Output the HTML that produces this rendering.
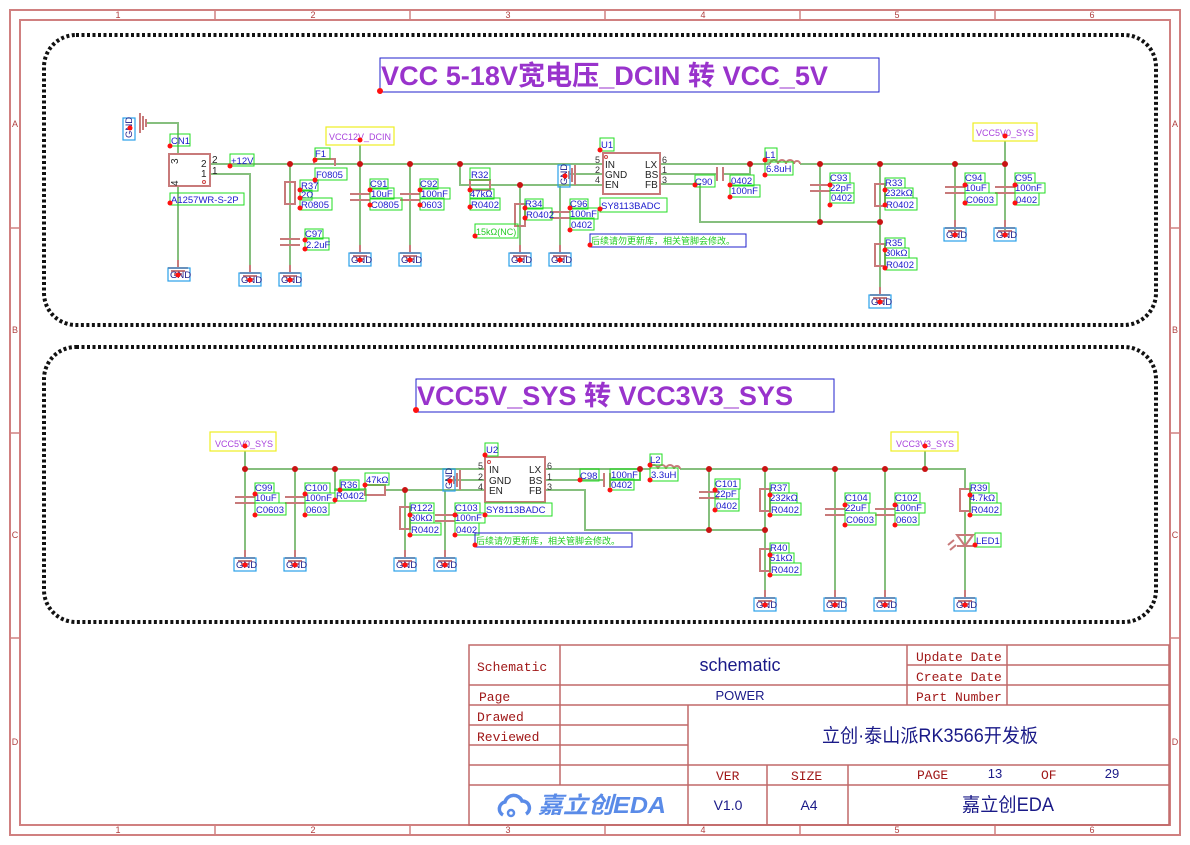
<!DOCTYPE html>
<html><head><meta charset="utf-8"><style>
html,body{margin:0;padding:0;background:#fff;}
svg{display:block}
.w{stroke:#86bf7e;stroke-width:2;fill:none}
.c{stroke:#c87a7a;stroke-width:2;fill:none}
.lb{fill:none;stroke:#22dd22;stroke-width:1}
.gb{fill:none;stroke:#2aa0e8;stroke-width:1.2}
.t{font:9.5px "Liberation Sans",sans-serif;fill:#1a1acc}
.g{font:9.5px "Liberation Sans",sans-serif;fill:#1a1a88}
.z{font:9px "Liberation Sans",sans-serif;fill:#b04040}
.pt{font:9px "Liberation Sans",sans-serif;fill:#333}
.ic{font:10px "Liberation Sans",sans-serif;fill:#222}
.tb{font:13px "Liberation Mono","Liberation Serif",monospace;fill:#a01818}
.tv{font-family:"Liberation Sans","Noto Sans CJK SC",sans-serif;fill:#1a1a88}
.j{fill:#c81414}
.m{fill:#ff1010}
.note{font:9px "Liberation Sans","Noto Sans CJK SC",sans-serif;fill:#22cc22}
.net{font:9px "Liberation Sans",sans-serif;fill:#aa44dd}
</style></head><body>
<svg width="1190" height="845" viewBox="0 0 1190 845" xmlns="http://www.w3.org/2000/svg">
<defs>
<g id="gnd"><line class="c" x1="0" y1="0" x2="0" y2="8"/><line class="c" x1="-10" y1="8" x2="10" y2="8"/><line class="c" x1="-7" y1="11" x2="7" y2="11"/><line class="c" x1="-4" y1="14" x2="4" y2="14"/></g>
<g id="cap"><line class="c" x1="-10" y1="-3" x2="10" y2="-3"/><line class="c" x1="-10" y1="3" x2="10" y2="3"/></g>
<g id="res"><rect class="c" x="-5" y="-11" width="10" height="22" fill="#fff"/></g>
</defs>
<rect width="1190" height="845" fill="#fff"/>
<rect x="10" y="10" width="1170" height="825" fill="none" stroke="#d08080" stroke-width="2"/>
<rect x="20" y="20" width="1150" height="805" fill="none" stroke="#d08080" stroke-width="2"/>
<g stroke="#d08080" stroke-width="1.5">
<line x1="215" y1="10" x2="215" y2="20"/><line x1="410" y1="10" x2="410" y2="20"/><line x1="605" y1="10" x2="605" y2="20"/><line x1="800" y1="10" x2="800" y2="20"/><line x1="995" y1="10" x2="995" y2="20"/>
<line x1="215" y1="825" x2="215" y2="835"/><line x1="410" y1="825" x2="410" y2="835"/><line x1="605" y1="825" x2="605" y2="835"/><line x1="800" y1="825" x2="800" y2="835"/><line x1="995" y1="825" x2="995" y2="835"/>
<line x1="10" y1="228" x2="20" y2="228"/><line x1="10" y1="433" x2="20" y2="433"/><line x1="10" y1="638" x2="20" y2="638"/>
<line x1="1170" y1="228" x2="1180" y2="228"/><line x1="1170" y1="433" x2="1180" y2="433"/><line x1="1170" y1="638" x2="1180" y2="638"/>
</g>
<g class="z" text-anchor="middle">
<text x="118" y="18">1</text><text x="313" y="18">2</text><text x="508" y="18">3</text><text x="703" y="18">4</text><text x="897" y="18">5</text><text x="1092" y="18">6</text>
<text x="118" y="833">1</text><text x="313" y="833">2</text><text x="508" y="833">3</text><text x="703" y="833">4</text><text x="897" y="833">5</text><text x="1092" y="833">6</text>
<text x="15" y="127">A</text><text x="15" y="333">B</text><text x="15" y="538">C</text><text x="15" y="745">D</text>
<text x="1175" y="127">A</text><text x="1175" y="333">B</text><text x="1175" y="538">C</text><text x="1175" y="745">D</text>
</g>
<rect x="44" y="35" width="1112" height="290" rx="32" fill="none" stroke="#111" stroke-width="4" stroke-dasharray="3,2.5"/>
<rect x="44" y="347" width="1112" height="275" rx="32" fill="none" stroke="#111" stroke-width="4" stroke-dasharray="3,2.5"/>

<!-- TOP -->
<rect x="380" y="58" width="499" height="34" fill="none" stroke="#2222cc" stroke-width="1"/>
<text x="381" y="85" font-family="Liberation Sans,Noto Sans CJK SC,sans-serif" font-size="27" font-weight="bold" fill="#9933cc" textLength="447" lengthAdjust="spacingAndGlyphs">VCC 5-18V宽电压_DCIN 转 VCC_5V</text>
<circle class="m" cx="380" cy="91" r="3"/>
<g class="w">
<path d="M146 123 H178 V154"/><path d="M178 186 V265"/><path d="M210 164 H603"/><path d="M210 174 H250 V265"/>
<path d="M290 164 V268"/><path d="M360 145 V250"/><path d="M410 164 V250"/><path d="M460 164 V185 H603"/>
<path d="M520 185 V250"/><path d="M560 185 V250"/><path d="M570 174 H603"/><path d="M660 164 H770"/>
<path d="M660 174 H717"/><path d="M723 174 H750 V164"/><path d="M660 184 H700 V222 H880"/><path d="M800 164 H1005"/>
<path d="M820 164 V222"/><path d="M880 164 V290"/><path d="M955 164 V230"/><path d="M1005 141 V230"/>
</g>
<g transform="translate(140,123)"><line class="c" x1="0" y1="-10" x2="0" y2="10"/><line class="c" x1="3" y1="-7" x2="3" y2="7"/><line class="c" x1="6" y1="-4" x2="6" y2="4"/></g>
<rect x="123" y="118" width="12" height="22" class="gb"/><text class="g" transform="translate(132,138) rotate(-90)">GND</text>
<rect x="169" y="154" width="41" height="32" class="c" fill="#fff"/>
<text class="ic" x="201" y="167">2</text><text class="ic" x="201" y="177">1</text><text class="ic" x="212" y="163">2</text><text class="ic" x="212" y="174">1</text>
<text class="ic" transform="translate(178,164) rotate(-90)">3</text><text class="ic" transform="translate(178,186) rotate(-90)">4</text>
<circle cx="204" cy="182" r="1.5" fill="none" stroke="#c44"/>
<path class="c" d="M314 164 V159 H335 V166"/>
<use href="#res" x="290" y="193"/><use href="#cap" x="290" y="242"/><use href="#cap" x="360" y="197"/><use href="#cap" x="410" y="197"/>
<rect x="470" y="180" width="20" height="10" class="c" fill="#fff"/>
<use href="#res" x="520" y="215"/><use href="#cap" x="560" y="215"/>
<g transform="translate(575,175)"><line class="c" x1="0" y1="-10" x2="0" y2="10"/><line class="c" x1="-3" y1="-7" x2="-3" y2="7"/><line class="c" x1="-6" y1="-4" x2="-6" y2="4"/></g>
<rect x="558" y="165" width="12" height="22" class="gb"/><text class="g" transform="translate(567,185) rotate(-90)">GND</text>
<rect x="603" y="153" width="57" height="41" class="c" fill="#fff"/>
<circle cx="606" cy="157" r="1.5" fill="none" stroke="#c44"/>
<text class="ic" x="605" y="168">IN</text><text class="ic" x="605" y="178">GND</text><text class="ic" x="605" y="188">EN</text>
<text class="ic" x="645" y="168">LX</text><text class="ic" x="645" y="178">BS</text><text class="ic" x="645" y="188">FB</text>
<text class="pt" x="595" y="163">5</text><text class="pt" x="595" y="173">2</text><text class="pt" x="595" y="183">4</text>
<text class="pt" x="662" y="163">6</text><text class="pt" x="662" y="173">1</text><text class="pt" x="662" y="183">3</text>
<line class="c" x1="717" y1="167" x2="717" y2="181"/><line class="c" x1="723" y1="167" x2="723" y2="181"/>
<path class="c" d="M770 164 a4 4 0 0 1 8 0 a4 4 0 0 1 8 0 a4 4 0 0 1 8 0 a3 3 0 0 1 6 0"/>
<use href="#cap" x="820" y="188"/><use href="#res" x="880" y="195"/><use href="#res" x="880" y="255"/><use href="#cap" x="955" y="190"/><use href="#cap" x="1005" y="190"/>
<use href="#gnd" x="178" y="260"/><use href="#gnd" x="250" y="265"/><use href="#gnd" x="290" y="265"/>
<use href="#gnd" x="360" y="245"/><use href="#gnd" x="410" y="245"/><use href="#gnd" x="520" y="245"/><use href="#gnd" x="560" y="245"/>
<use href="#gnd" x="880" y="287"/><use href="#gnd" x="955" y="220"/><use href="#gnd" x="1005" y="220"/>
<g>
<rect class="gb" x="168" y="268" width="22" height="13"/><text class="g" x="170" y="278">GND</text>
<rect class="gb" x="239" y="273" width="22" height="13"/><text class="g" x="241" y="283">GND</text>
<rect class="gb" x="279" y="273" width="22" height="13"/><text class="g" x="281" y="283">GND</text>
<rect class="gb" x="349" y="253" width="22" height="13"/><text class="g" x="351" y="263">GND</text>
<rect class="gb" x="399" y="253" width="22" height="13"/><text class="g" x="401" y="263">GND</text>
<rect class="gb" x="509" y="253" width="22" height="13"/><text class="g" x="511" y="263">GND</text>
<rect class="gb" x="549" y="253" width="22" height="13"/><text class="g" x="551" y="263">GND</text>
<rect class="gb" x="869" y="295" width="22" height="13"/><text class="g" x="871" y="305">GND</text>
<rect class="gb" x="944" y="228" width="22" height="13"/><text class="g" x="946" y="238">GND</text>
<rect class="gb" x="994" y="228" width="22" height="13"/><text class="g" x="996" y="238">GND</text>
</g>
<rect x="326" y="127" width="68" height="18" fill="none" stroke="#eeee22" stroke-width="1.2"/><text class="net" x="329" y="140">VCC12V_DCIN</text>
<rect x="973" y="123" width="64" height="18" fill="none" stroke="#eeee22" stroke-width="1.2"/><text class="net" x="976" y="136">VCC5V0_SYS</text>
<g>
<rect class="lb" x="170" y="134" width="20" height="12"/><text class="t" x="171" y="144">CN1</text>
<rect class="lb" x="170" y="193" width="74" height="12"/><text class="t" x="171" y="203">A1257WR-S-2P</text>
<rect class="lb" x="230" y="154" width="24" height="12"/><text class="t" x="231" y="164">+12V</text>
<rect class="lb" x="315" y="148" width="15" height="11"/><text class="t" x="315" y="157">F1</text>
<rect class="lb" x="315" y="168" width="32" height="12"/><text class="t" x="316" y="178">F0805</text>
<rect class="lb" x="300" y="180" width="18" height="11"/><text class="t" x="301" y="189">R37</text>
<rect class="lb" x="300" y="190" width="12" height="10"/><text class="t" x="301" y="198">2Ω</text>
<rect class="lb" x="300" y="198" width="32" height="12"/><text class="t" x="301" y="208">R0805</text>
<rect class="lb" x="305" y="229" width="18" height="10"/><text class="t" x="305" y="237">C97</text>
<rect class="lb" x="305" y="238" width="24" height="12"/><text class="t" x="306" y="248">2.2uF</text>
<rect class="lb" x="370" y="179" width="18" height="10"/><text class="t" x="370" y="187">C91</text>
<rect class="lb" x="370" y="188" width="24" height="11"/><text class="t" x="371" y="197">10uF</text>
<rect class="lb" x="370" y="198" width="32" height="12"/><text class="t" x="371" y="208">C0805</text>
<rect class="lb" x="420" y="179" width="18" height="10"/><text class="t" x="420" y="187">C92</text>
<rect class="lb" x="420" y="188" width="30" height="11"/><text class="t" x="421" y="197">100nF</text>
<rect class="lb" x="420" y="198" width="24" height="12"/><text class="t" x="421" y="208">0603</text>
<rect class="lb" x="470" y="168" width="20" height="12"/><text class="t" x="471" y="178">R32</text>
<rect class="lb" x="470" y="189" width="24" height="10"/><text class="t" x="470" y="197">47kΩ</text>
<rect class="lb" x="470" y="198" width="30" height="12"/><text class="t" x="471" y="208">R0402</text>
<rect class="lb" x="525" y="199" width="18" height="10"/><text class="t" x="525" y="207">R34</text>
<rect class="lb" x="525" y="208" width="27" height="12"/><text class="t" x="526" y="218">R0402</text>
<rect class="lb" x="475" y="224" width="43" height="14"/><text class="note" x="476" y="235">15kΩ(NC)</text>
<rect class="lb" x="570" y="199" width="18" height="10"/><text class="t" x="570" y="207">C96</text>
<rect class="lb" x="570" y="208" width="28" height="11"/><text class="t" x="570" y="217">100nF</text>
<rect class="lb" x="570" y="218" width="24" height="12"/><text class="t" x="571" y="228">0402</text>
<rect class="lb" x="600" y="138" width="14" height="13"/><text class="t" x="601" y="148">U1</text>
<rect class="lb" x="600" y="198" width="67" height="14"/><text class="t" x="601" y="209">SY8113BADC</text>
<rect class="lb" x="695" y="175" width="20" height="12"/><text class="t" x="695" y="185">C90</text>
<rect class="lb" x="730" y="175" width="24" height="11"/><text class="t" x="731" y="184">0402</text>
<rect class="lb" x="730" y="185" width="30" height="12"/><text class="t" x="731" y="194">100nF</text>
<rect class="lb" x="765" y="148" width="12" height="12"/><text class="t" x="765" y="158">L1</text>
<rect class="lb" x="765" y="162" width="28" height="13"/><text class="t" x="766" y="172">6.8uH</text>
<rect class="lb" x="830" y="173" width="20" height="10"/><text class="t" x="830" y="181">C93</text>
<rect class="lb" x="830" y="183" width="24" height="10"/><text class="t" x="830" y="191">22pF</text>
<rect class="lb" x="830" y="193" width="24" height="10"/><text class="t" x="831" y="201">0402</text>
<rect class="lb" x="885" y="178" width="20" height="10"/><text class="t" x="885" y="186">R33</text>
<rect class="lb" x="885" y="188" width="28" height="10"/><text class="t" x="885" y="196">232kΩ</text>
<rect class="lb" x="885" y="198" width="32" height="12"/><text class="t" x="886" y="208">R0402</text>
<rect class="lb" x="885" y="238" width="20" height="10"/><text class="t" x="885" y="246">R35</text>
<rect class="lb" x="885" y="248" width="24" height="10"/><text class="t" x="885" y="256">30kΩ</text>
<rect class="lb" x="885" y="258" width="32" height="12"/><text class="t" x="886" y="268">R0402</text>
<rect class="lb" x="965" y="173" width="20" height="10"/><text class="t" x="965" y="181">C94</text>
<rect class="lb" x="965" y="183" width="24" height="10"/><text class="t" x="965" y="191">10uF</text>
<rect class="lb" x="965" y="193" width="32" height="12"/><text class="t" x="966" y="203">C0603</text>
<rect class="lb" x="1015" y="173" width="20" height="10"/><text class="t" x="1015" y="181">C95</text>
<rect class="lb" x="1015" y="183" width="30" height="10"/><text class="t" x="1015" y="191">100nF</text>
<rect class="lb" x="1015" y="193" width="24" height="12"/><text class="t" x="1016" y="203">0402</text>
</g>
<rect x="590" y="234" width="156" height="13" fill="none" stroke="#2222cc" stroke-width="1"/>
<text class="note" x="591" y="244">后续请勿更新库，相关管脚会修改。</text>
<g class="j">
<circle cx="290" cy="164" r="3"/><circle cx="360" cy="164" r="3"/><circle cx="410" cy="164" r="3"/><circle cx="460" cy="164" r="3"/><circle cx="520" cy="185" r="3"/>
<circle cx="750" cy="164" r="3"/><circle cx="820" cy="164" r="3"/><circle cx="880" cy="164" r="3"/><circle cx="955" cy="164" r="3"/><circle cx="1005" cy="164" r="3"/>
<circle cx="820" cy="222" r="3"/><circle cx="880" cy="222" r="3"/>
</g>
<g class="m">
<circle cx="130" cy="128" r="2.5"/><circle cx="170" cy="146" r="2.5"/><circle cx="170" cy="203" r="2.5"/><circle cx="230" cy="166" r="2.5"/><circle cx="315" cy="160" r="2.5"/><circle cx="315" cy="180" r="2.5"/>
<circle cx="300" cy="190" r="2.5"/><circle cx="300" cy="198" r="2.5"/><circle cx="300" cy="208" r="2.5"/><circle cx="305" cy="240" r="2.5"/><circle cx="305" cy="249" r="2.5"/>
<circle cx="360" cy="140" r="2.5"/><circle cx="370" cy="190" r="2.5"/><circle cx="370" cy="205" r="2.5"/><circle cx="420" cy="190" r="2.5"/><circle cx="420" cy="205" r="2.5"/>
<circle cx="470" cy="190" r="2.5"/><circle cx="470" cy="207" r="2.5"/><circle cx="525" cy="208" r="2.5"/><circle cx="525" cy="218" r="2.5"/><circle cx="475" cy="236" r="2.5"/>
<circle cx="570" cy="208" r="2.5"/><circle cx="570" cy="230" r="2.5"/><circle cx="600" cy="150" r="2.5"/><circle cx="600" cy="209" r="2.5"/><circle cx="590" cy="245" r="2.5"/>
<circle cx="695" cy="185" r="2.5"/><circle cx="730" cy="185" r="2.5"/><circle cx="730" cy="197" r="2.5"/><circle cx="765" cy="160" r="2.5"/><circle cx="765" cy="175" r="2.5"/>
<circle cx="830" cy="185" r="2.5"/><circle cx="830" cy="205" r="2.5"/><circle cx="885" cy="190" r="2.5"/><circle cx="885" cy="205" r="2.5"/><circle cx="885" cy="250" r="2.5"/><circle cx="885" cy="268" r="2.5"/>
<circle cx="965" cy="185" r="2.5"/><circle cx="965" cy="203" r="2.5"/><circle cx="1015" cy="185" r="2.5"/><circle cx="1015" cy="203" r="2.5"/><circle cx="1005" cy="136" r="2.5"/>
<circle cx="178" cy="275" r="2.5"/><circle cx="250" cy="280" r="2.5"/><circle cx="290" cy="280" r="2.5"/><circle cx="360" cy="260" r="2.5"/><circle cx="410" cy="260" r="2.5"/><circle cx="520" cy="260" r="2.5"/><circle cx="560" cy="260" r="2.5"/><circle cx="880" cy="302" r="2.5"/><circle cx="955" cy="235" r="2.5"/><circle cx="1005" cy="235" r="2.5"/><circle cx="565" cy="176" r="2.5"/>
</g>

<!-- BOTTOM -->
<rect x="416" y="379" width="418" height="33" fill="none" stroke="#2222cc" stroke-width="1"/>
<text x="417" y="405" font-family="Liberation Sans,Noto Sans CJK SC,sans-serif" font-size="27" font-weight="bold" fill="#9933cc" textLength="376" lengthAdjust="spacingAndGlyphs">VCC5V_SYS 转 VCC3V3_SYS</text>
<circle class="m" cx="416" cy="410" r="3"/>
<g class="w">
<path d="M245 451 V555"/><path d="M245 469 H485"/><path d="M295 469 V555"/><path d="M335 469 V490 H365"/>
<path d="M385 490 H485"/><path d="M405 490 V555"/><path d="M445 480 H485"/><path d="M445 490 V555"/>
<path d="M545 469 H650"/><path d="M680 469 H965 V490"/><path d="M545 480 H604"/><path d="M610 480 H640 V469"/>
<path d="M545 490 H585 V530 H765"/><path d="M709 469 V530"/><path d="M765 469 V595"/><path d="M835 469 V595"/>
<path d="M885 469 V595"/><path d="M925 451 V469"/><path d="M965 510 V595"/>
</g>
<use href="#cap" x="245" y="500"/><use href="#cap" x="295" y="500"/>
<rect x="365" y="485" width="20" height="10" class="c" fill="#fff"/>
<use href="#res" x="405" y="518"/><use href="#cap" x="445" y="518"/>
<g transform="translate(460,480)"><line class="c" x1="0" y1="-10" x2="0" y2="10"/><line class="c" x1="-3" y1="-7" x2="-3" y2="7"/><line class="c" x1="-6" y1="-4" x2="-6" y2="4"/></g>
<rect x="443" y="469" width="12" height="22" class="gb"/><text class="g" transform="translate(452,489) rotate(-90)">GND</text>
<rect x="485" y="457" width="60" height="45" class="c" fill="#fff"/>
<circle cx="489" cy="462" r="1.5" fill="none" stroke="#c44"/>
<text class="ic" x="489" y="473">IN</text><text class="ic" x="489" y="484">GND</text><text class="ic" x="489" y="494">EN</text>
<text class="ic" x="529" y="473">LX</text><text class="ic" x="529" y="484">BS</text><text class="ic" x="529" y="494">FB</text>
<text class="pt" x="478" y="469">5</text><text class="pt" x="478" y="480">2</text><text class="pt" x="478" y="490">4</text>
<text class="pt" x="547" y="469">6</text><text class="pt" x="547" y="480">1</text><text class="pt" x="547" y="490">3</text>
<line class="c" x1="604" y1="473" x2="604" y2="487"/><line class="c" x1="610" y1="473" x2="610" y2="487"/>
<path class="c" d="M650 469 a4 4 0 0 1 8 0 a4 4 0 0 1 8 0 a4 4 0 0 1 8 0 a3 3 0 0 1 6 0"/>
<use href="#cap" x="709" y="495"/><use href="#res" x="765" y="500"/><use href="#res" x="765" y="560"/>
<use href="#cap" x="835" y="512"/><use href="#cap" x="885" y="512"/><use href="#res" x="965" y="500"/>
<path class="c" d="M957 535 H973 L965 546 Z" fill="#fff"/><line class="c" x1="957" y1="546" x2="973" y2="546"/>
<line class="c" x1="948" y1="545" x2="954" y2="540"/><line class="c" x1="950" y1="550" x2="956" y2="545"/>
<use href="#gnd" x="245" y="550"/><use href="#gnd" x="295" y="550"/><use href="#gnd" x="405" y="550"/><use href="#gnd" x="445" y="550"/>
<use href="#gnd" x="765" y="590"/><use href="#gnd" x="835" y="590"/><use href="#gnd" x="885" y="590"/><use href="#gnd" x="965" y="590"/>
<g>
<rect class="gb" x="234" y="558" width="22" height="13"/><text class="g" x="236" y="568">GND</text>
<rect class="gb" x="284" y="558" width="22" height="13"/><text class="g" x="286" y="568">GND</text>
<rect class="gb" x="394" y="558" width="22" height="13"/><text class="g" x="396" y="568">GND</text>
<rect class="gb" x="434" y="558" width="22" height="13"/><text class="g" x="436" y="568">GND</text>
<rect class="gb" x="754" y="598" width="22" height="13"/><text class="g" x="756" y="608">GND</text>
<rect class="gb" x="824" y="598" width="22" height="13"/><text class="g" x="826" y="608">GND</text>
<rect class="gb" x="874" y="598" width="22" height="13"/><text class="g" x="876" y="608">GND</text>
<rect class="gb" x="954" y="598" width="22" height="13"/><text class="g" x="956" y="608">GND</text>
</g>
<rect x="210" y="432" width="66" height="19" fill="none" stroke="#eeee22" stroke-width="1.2"/><text class="net" x="215" y="447">VCC5V0_SYS</text>
<rect x="891" y="432" width="67" height="19" fill="none" stroke="#eeee22" stroke-width="1.2"/><text class="net" x="896" y="447">VCC3V3_SYS</text>
<g>
<rect class="lb" x="255" y="483" width="19" height="10"/><text class="t" x="255" y="491">C99</text>
<rect class="lb" x="255" y="493" width="24" height="10"/><text class="t" x="255" y="501">10uF</text>
<rect class="lb" x="255" y="503" width="31" height="12"/><text class="t" x="256" y="513">C0603</text>
<rect class="lb" x="305" y="483" width="25" height="10"/><text class="t" x="305" y="491">C100</text>
<rect class="lb" x="305" y="493" width="30" height="10"/><text class="t" x="305" y="501">100nF</text>
<rect class="lb" x="305" y="503" width="24" height="12"/><text class="t" x="306" y="513">0603</text>
<rect class="lb" x="340" y="480" width="19" height="10"/><text class="t" x="340" y="488">R36</text>
<rect class="lb" x="335" y="489" width="31" height="12"/><text class="t" x="336" y="499">R0402</text>
<rect class="lb" x="365" y="473" width="24" height="12"/><text class="t" x="366" y="483">47kΩ</text>
<rect class="lb" x="410" y="503" width="24" height="10"/><text class="t" x="410" y="511">R122</text>
<rect class="lb" x="410" y="513" width="24" height="10"/><text class="t" x="410" y="521">30kΩ</text>
<rect class="lb" x="410" y="523" width="31" height="12"/><text class="t" x="411" y="533">R0402</text>
<rect class="lb" x="455" y="503" width="25" height="10"/><text class="t" x="455" y="511">C103</text>
<rect class="lb" x="455" y="513" width="30" height="10"/><text class="t" x="455" y="521">100nF</text>
<rect class="lb" x="455" y="523" width="24" height="12"/><text class="t" x="456" y="533">0402</text>
<rect class="lb" x="485" y="443" width="13" height="13"/><text class="t" x="486" y="453">U2</text>
<rect class="lb" x="485" y="503" width="67" height="13"/><text class="t" x="486" y="513">SY8113BADC</text>
<rect class="lb" x="580" y="469" width="19" height="12"/><text class="t" x="580" y="479">C98</text>
<rect class="lb" x="610" y="469" width="30" height="11"/><text class="t" x="611" y="478">100nF</text>
<rect class="lb" x="610" y="479" width="24" height="11"/><text class="t" x="611" y="488">0402</text>
<rect class="lb" x="650" y="454" width="12" height="11"/><text class="t" x="650" y="463">L2</text>
<rect class="lb" x="650" y="468" width="28" height="13"/><text class="t" x="651" y="478">3.3uH</text>
<rect class="lb" x="715" y="479" width="25" height="10"/><text class="t" x="715" y="487">C101</text>
<rect class="lb" x="715" y="489" width="24" height="10"/><text class="t" x="715" y="497">22pF</text>
<rect class="lb" x="715" y="499" width="24" height="12"/><text class="t" x="716" y="509">0402</text>
<rect class="lb" x="770" y="483" width="19" height="10"/><text class="t" x="770" y="491">R37</text>
<rect class="lb" x="770" y="493" width="27" height="10"/><text class="t" x="770" y="501">232kΩ</text>
<rect class="lb" x="770" y="503" width="31" height="12"/><text class="t" x="771" y="513">R0402</text>
<rect class="lb" x="770" y="543" width="19" height="10"/><text class="t" x="770" y="551">R40</text>
<rect class="lb" x="770" y="553" width="24" height="10"/><text class="t" x="770" y="561">51kΩ</text>
<rect class="lb" x="770" y="563" width="31" height="12"/><text class="t" x="771" y="573">R0402</text>
<rect class="lb" x="845" y="493" width="25" height="10"/><text class="t" x="845" y="501">C104</text>
<rect class="lb" x="845" y="503" width="24" height="10"/><text class="t" x="845" y="511">22uF</text>
<rect class="lb" x="845" y="513" width="31" height="12"/><text class="t" x="846" y="523">C0603</text>
<rect class="lb" x="895" y="493" width="25" height="10"/><text class="t" x="895" y="501">C102</text>
<rect class="lb" x="895" y="503" width="30" height="10"/><text class="t" x="895" y="511">100nF</text>
<rect class="lb" x="895" y="513" width="24" height="12"/><text class="t" x="896" y="523">0603</text>
<rect class="lb" x="970" y="483" width="19" height="10"/><text class="t" x="970" y="491">R39</text>
<rect class="lb" x="970" y="493" width="27" height="10"/><text class="t" x="970" y="501">4.7kΩ</text>
<rect class="lb" x="970" y="503" width="31" height="12"/><text class="t" x="971" y="513">R0402</text>
<rect class="lb" x="975" y="533" width="26" height="14"/><text class="t" x="976" y="544">LED1</text>
</g>
<rect x="475" y="533" width="157" height="14" fill="none" stroke="#2222cc" stroke-width="1"/>
<text class="note" x="476" y="544">后续请勿更新库，相关管脚会修改。</text>
<g class="j">
<circle cx="245" cy="469" r="3"/><circle cx="295" cy="469" r="3"/><circle cx="335" cy="469" r="3"/><circle cx="405" cy="490" r="3"/>
<circle cx="640" cy="469" r="3"/><circle cx="709" cy="469" r="3"/><circle cx="765" cy="469" r="3"/><circle cx="835" cy="469" r="3"/><circle cx="885" cy="469" r="3"/><circle cx="925" cy="469" r="3"/>
<circle cx="709" cy="530" r="3"/><circle cx="765" cy="530" r="3"/>
</g>
<g class="m">
<circle cx="245" cy="446" r="2.5"/><circle cx="255" cy="494" r="2.5"/><circle cx="255" cy="515" r="2.5"/><circle cx="305" cy="494" r="2.5"/><circle cx="305" cy="515" r="2.5"/>
<circle cx="340" cy="490" r="2.5"/><circle cx="335" cy="500" r="2.5"/><circle cx="365" cy="485" r="2.5"/><circle cx="410" cy="515" r="2.5"/><circle cx="410" cy="535" r="2.5"/>
<circle cx="455" cy="515" r="2.5"/><circle cx="455" cy="535" r="2.5"/><circle cx="485" cy="455" r="2.5"/><circle cx="485" cy="515" r="2.5"/><circle cx="475" cy="545" r="2.5"/>
<circle cx="580" cy="480" r="2.5"/><circle cx="610" cy="490" r="2.5"/><circle cx="650" cy="465" r="2.5"/><circle cx="650" cy="480" r="2.5"/>
<circle cx="715" cy="490" r="2.5"/><circle cx="715" cy="510" r="2.5"/><circle cx="770" cy="495" r="2.5"/><circle cx="770" cy="515" r="2.5"/><circle cx="770" cy="555" r="2.5"/><circle cx="770" cy="575" r="2.5"/>
<circle cx="845" cy="505" r="2.5"/><circle cx="845" cy="525" r="2.5"/><circle cx="895" cy="505" r="2.5"/><circle cx="895" cy="525" r="2.5"/><circle cx="970" cy="495" r="2.5"/><circle cx="970" cy="515" r="2.5"/><circle cx="975" cy="545" r="2.5"/><circle cx="925" cy="446" r="2.5"/>
<circle cx="245" cy="565" r="2.5"/><circle cx="295" cy="565" r="2.5"/><circle cx="405" cy="565" r="2.5"/><circle cx="445" cy="565" r="2.5"/><circle cx="765" cy="605" r="2.5"/><circle cx="835" cy="605" r="2.5"/><circle cx="885" cy="605" r="2.5"/><circle cx="965" cy="605" r="2.5"/><circle cx="450" cy="481" r="2.5"/>
</g>

<!-- TITLE BLOCK -->
<g stroke="#c06868" stroke-width="1.5" fill="none">
<rect x="469" y="645" width="700" height="180"/>
<line x1="560" y1="645" x2="560" y2="785"/>
<line x1="907" y1="645" x2="907" y2="705"/>
<line x1="1007" y1="645" x2="1007" y2="705"/>
<line x1="907" y1="665" x2="1169" y2="665"/>
<line x1="469" y1="685" x2="1169" y2="685"/>
<line x1="469" y1="705" x2="1169" y2="705"/>
<line x1="469" y1="725" x2="688" y2="725"/>
<line x1="469" y1="745" x2="688" y2="745"/>
<line x1="688" y1="705" x2="688" y2="825"/>
<line x1="469" y1="765" x2="1169" y2="765"/>
<line x1="469" y1="785" x2="1169" y2="785"/>
<line x1="767" y1="765" x2="767" y2="825"/>
<line x1="848" y1="765" x2="848" y2="825"/>
</g>
<text class="tb" x="477" y="671">Schematic</text>
<text class="tb" x="479" y="701">Page</text>
<text class="tb" x="477" y="721">Drawed</text>
<text class="tb" x="477" y="741">Reviewed</text>
<text class="tb" x="916" y="661">Update Date</text>
<text class="tb" x="916" y="681">Create Date</text>
<text class="tb" x="916" y="701">Part Number</text>
<text class="tb" x="716" y="780">VER</text>
<text class="tb" x="791" y="780">SIZE</text>
<text class="tb" x="917" y="779">PAGE</text>
<text class="tb" x="1041" y="779">OF</text>
<text class="tv" x="740" y="671" text-anchor="middle" style="font-size:18px">schematic</text>
<text class="tv" x="740" y="700" text-anchor="middle" style="font-size:13px">POWER</text>
<text class="tv" x="930" y="742" text-anchor="middle" style="font-size:19px" textLength="216" lengthAdjust="spacingAndGlyphs">立创·泰山派RK3566开发板</text>
<text class="tv" x="995" y="778" text-anchor="middle" style="font-size:13px">13</text>
<text class="tv" x="1112" y="778" text-anchor="middle" style="font-size:13px">29</text>
<text class="tv" x="728" y="810" text-anchor="middle" style="font-size:14px">V1.0</text>
<text class="tv" x="809" y="810" text-anchor="middle" style="font-size:14px">A4</text>
<text class="tv" x="1008" y="811" text-anchor="middle" style="font-size:19px" textLength="92" lengthAdjust="spacingAndGlyphs">嘉立创EDA</text>
<g transform="translate(497,793)">
<path d="M6 22 a7 7 0 0 1 2 -13 a9 9 0 0 1 17 -1 a7 7 0 0 1 4 13" fill="none" stroke="#5a8be8" stroke-width="3.5"/>
<circle cx="14" cy="20" r="3" fill="none" stroke="#5a8be8" stroke-width="2.5"/>
</g>
<text x="538" y="813" font-family="Liberation Sans,Noto Sans CJK SC,sans-serif" font-size="23" font-weight="bold" font-style="italic" fill="#5a8be8" textLength="128" lengthAdjust="spacingAndGlyphs">嘉立创EDA</text>
</svg>
</body></html>
